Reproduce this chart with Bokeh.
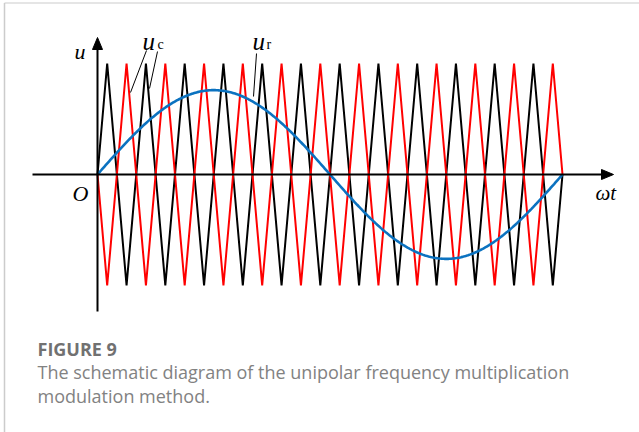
import numpy as np
from bokeh.plotting import figure
from bokeh.models import Label
from bokeh.embed import file_html
from bokeh.resources import INLINE

# ---- data ----
carrier_periods = 12          # carrier periods over one reference period
carrier_amplitude = 1.0       # triangle carriers peak value
reference_amplitude = 0.76    # sine reference peak value (modulation index)
caption_title = "FIGURE 9"
caption_lines = ["The schematic diagram of the unipolar frequency multiplication",
                 "modulation method."]

# ---- layout constants (pixels) ----
W, H = 639, 432
OX, OY = 97, 174              # origin position in pixels
SX = 465 / (2 * np.pi)        # px per radian
SY = 111                      # px per unit

def X(px):
    return (px - OX) / SX

def Y(py):
    return (OY - py) / SY

p = figure(width=W, height=H, output_backend="svg", toolbar_location=None,
           x_range=(X(0), X(W)), y_range=(Y(H), Y(0)),
           x_axis_type=None, y_axis_type=None, min_border=0)
p.grid.visible = False
p.outline_line_color = None
p.background_fill_color = "white"
p.border_fill_color = "white"

# ---- carriers ----
T = 2 * np.pi / carrier_periods
tx = [0.0]
ty = [0.0]
for k in range(carrier_periods):
    tx += [(k + 0.25) * T, (k + 0.75) * T]
    ty += [carrier_amplitude, -carrier_amplitude]
tx.append(carrier_periods * T)
ty.append(0.0)
tx = np.array(tx)
ty = np.array(ty)

p.line(tx, ty, line_color="black", line_width=2)
p.line(tx, -ty, line_color="#ff0000", line_width=2)

# ---- reference sine ----
wt = np.linspace(0, 2 * np.pi, 400)
p.line(wt, reference_amplitude * np.sin(wt), line_color="#0b72c0", line_width=2.6)

# ---- axes with arrows ----
p.segment(x0=[X(32), X(OX)], y0=[0, Y(311)], x1=[X(604), X(OX)], y1=[0, Y(47)],
          line_color="black", line_width=2)
p.patch([X(613), X(601), X(601)], [0, Y(OY - 5), Y(OY + 5)], fill_color="black", line_color="black", line_width=1)
p.patch([X(OX), X(OX - 5), X(OX + 5)], [Y(37), Y(49), Y(49)], fill_color="black", line_color="black", line_width=1)

# ---- leader lines ----
p.segment(x0=[X(146), X(157), X(256)], y0=[Y(50), Y(51), Y(53)],
          x1=[X(130), X(149), X(253)], y1=[Y(92), Y(88), Y(96)],
          line_color="black", line_width=1)

# ---- frame border ----
p.segment(x0=[X(4), X(4)], y0=[Y(2.5), Y(2.5)], x1=[X(W), X(4)], y1=[Y(2.5), Y(H)],
          line_color=["#dddddd", "#cccccc"], line_width=1.5)

serif = "Liberation Serif"

def lab(x, y, text, size, style="italic", align="left", font=serif, color="black"):
    yy = y - 0.3 * size
    l = Label(x=X(x), y=Y(yy), text=text, text_font=font, text_font_size=f"{size}px",
              text_font_style=style, text_align=align, text_baseline="alphabetic",
              text_color=color)
    p.add_layout(l)

lab(74, 58, "u", 22)
lab(142, 48, "u", 25)
lab(157, 48, "c", 14, style="normal")
lab(252, 48, "u", 25)
lab(266, 48, "r", 14, style="normal")
lab(72, 200, "O", 22)
lab(595, 199, "ωt", 21)

# ---- caption ----
cap_font = "Open Sans"
lab(37, 354, caption_title, 18, style="bold", font=cap_font, color="#717171")
lab(37, 377, caption_lines[0], 18, style="normal", font=cap_font, color="#828282")
lab(37, 401, caption_lines[1], 18, style="normal", font=cap_font, color="#828282")

open("out.html", "w").write(file_html(p, INLINE))
